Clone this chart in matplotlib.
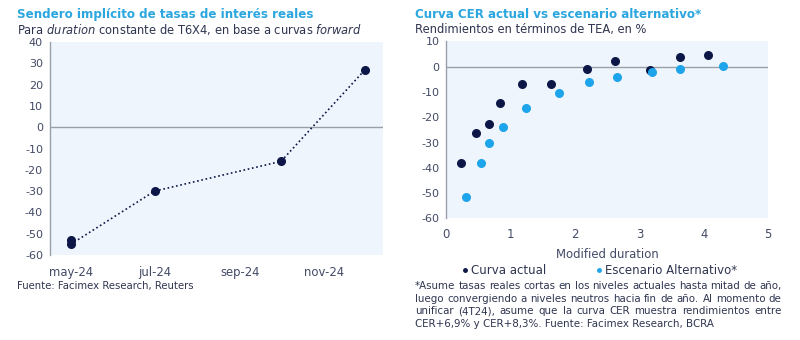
import datetime as dt

import matplotlib
matplotlib.use("Agg")
import matplotlib.dates as mdates
import matplotlib.pyplot as plt
from matplotlib.lines import Line2D
from matplotlib.ticker import FuncFormatter

plt.rcParams["font.family"] = ["DejaVu Sans"]
plt.rcParams["axes.unicode_minus"] = False

NAVY = "#0c1747"
LIGHT = "#1ea4ea"
TITLE = "#2ba6df"
TEXT = "#2f3550"
TICK = "#434a66"
PANEL = "#eef5fc"
AXIS = "#9aa0aa"

# implied real-rate path (T6X4, constant duration)
path_dates = [dt.date(2024, 5, 1), dt.date(2024, 5, 1), dt.date(2024, 7, 1),
              dt.date(2024, 10, 1), dt.date(2024, 12, 1)]
path_values = [-53, -55, -30, -16, 27]

# CER curve: current vs alternative scenario
actual_duration = [0.22, 0.46, 0.67, 0.84, 1.17, 1.63, 2.18, 2.62, 3.16, 3.63, 4.06]
actual_yield = [-38.0, -26.1, -22.7, -14.5, -7.0, -7.0, -0.7, 2.4, -1.3, 3.7, 4.6]
alt_duration = [0.31, 0.54, 0.67, 0.88, 1.24, 1.75, 2.22, 2.65, 3.20, 3.63, 4.30]
alt_yield = [-51.7, -38.0, -30.1, -24.0, -16.5, -10.5, -6.2, -4.0, -2.0, -0.7, 0.3]

footnote = [
    "*Asume tasas reales cortas en los niveles actuales hasta mitad de año,",
    "luego convergiendo a niveles neutros hacia fin de año. Al momento de",
    "unificar (4T24), asume que la curva CER muestra rendimientos entre",
    "CER+6,9% y CER+8,3%. Fuente: Facimex Research, BCRA",
]


def style_axes(ax):
    ax.set_facecolor(PANEL)
    for side in ("top", "right", "bottom"):
        ax.spines[side].set_visible(False)
    ax.spines["left"].set_color(AXIS)
    ax.spines["left"].set_linewidth(1.0)
    ax.axhline(0, color=AXIS, lw=1.0, zorder=1)
    ax.tick_params(length=0, labelsize=8.0, labelcolor=TICK, pad=5)


def justified_text(fig, lines, x0, x1, y0, step, **kw):
    """Write lines as a justified paragraph between figure x0 and x1."""
    renderer = fig.canvas.get_renderer()
    width_px = (x1 - x0) * fig.bbox.width
    for i, line in enumerate(lines):
        y = y0 - i * step
        if i == len(lines) - 1:
            fig.text(x0, y, line, va="center", **kw)
            continue
        words = line.split()
        items = [fig.text(x0, y, w, va="center", **kw) for w in words]
        widths = [t.get_window_extent(renderer).width for t in items]
        gap = (width_px - sum(widths)) / (len(words) - 1)
        pos = 0.0
        for t, w in zip(items, widths):
            t.set_x(x0 + pos / fig.bbox.width)
            pos += w + gap


fig = plt.figure(figsize=(8, 3.4), dpi=100)

# left panel
ax1 = fig.add_axes([0.0625, 0.25, 0.416, 0.626])
style_axes(ax1)
ax1.plot(path_dates, path_values, ls=(0, (1, 1.6)), lw=1.2, color=NAVY,
         marker="o", ms=5.5, zorder=3)
ax1.set_ylim(-60, 40)
ax1.set_yticks(range(-60, 41, 10))
ax1.set_xlim(dt.date(2024, 4, 16), dt.date(2024, 12, 14))
ax1.xaxis.set_major_locator(mdates.MonthLocator(bymonth=[5, 7, 9, 11]))
ax1.xaxis.set_major_formatter(
    FuncFormatter(lambda v, _: mdates.num2date(v).strftime("%b-%y").lower()))
ax1.tick_params(axis="x", labelsize=8.4, pad=8)

fig.text(0.021, 0.958, "Sendero implícito de tasas de interés reales",
         color=TITLE, fontsize=8.6, fontweight="bold", va="center")
fig.text(0.021, 0.914,
         r"Para $\it{duration}$ constante de T6X4, en base a curvas $\it{forward}$",
         color=TEXT, fontsize=8.3, va="center")
fig.text(0.021, 0.159, "Fuente: Facimex Research, Reuters",
         color=TEXT, fontsize=7.3, va="center")

# right panel
ax2 = fig.add_axes([0.558, 0.358, 0.402, 0.520])
style_axes(ax2)
ax2.scatter(actual_duration, actual_yield, s=30, color=NAVY, zorder=3)
ax2.scatter(alt_duration, alt_yield, s=30, color=LIGHT, zorder=3)
ax2.set_xlim(0, 5)
ax2.set_ylim(-60, 10)
ax2.set_yticks(range(-60, 11, 10))
ax2.set_xticks(range(0, 6))
ax2.tick_params(axis="x", labelsize=8.4, pad=7)
ax2.set_xlabel("Modified duration", fontsize=8.4, color=TICK, labelpad=5)

handles = [
    Line2D([], [], ls="none", marker="o", ms=2.5, color=NAVY),
    Line2D([], [], ls="none", marker="o", ms=2.5, color=LIGHT),
]
ax2.legend(handles, ["Curva actual", "Escenario Alternativo*"],
           loc="center", bbox_to_anchor=(0.477, -0.295), ncol=2,
           frameon=False, fontsize=8.5, labelcolor=TEXT,
           handlelength=0.4, handletextpad=0.35, columnspacing=4.2,
           borderaxespad=0)

fig.text(0.519, 0.958, "Curva CER actual vs escenario alternativo*",
         color=TITLE, fontsize=8.6, fontweight="bold", va="center")
fig.text(0.519, 0.914, "Rendimientos en términos de TEA, en %",
         color=TEXT, fontsize=8.3, va="center")
justified_text(fig, footnote, 0.519, 0.977, 0.159, 0.0373,
               color=TEXT, fontsize=7.4)

fig.savefig("out.png", dpi=100, facecolor="white")
